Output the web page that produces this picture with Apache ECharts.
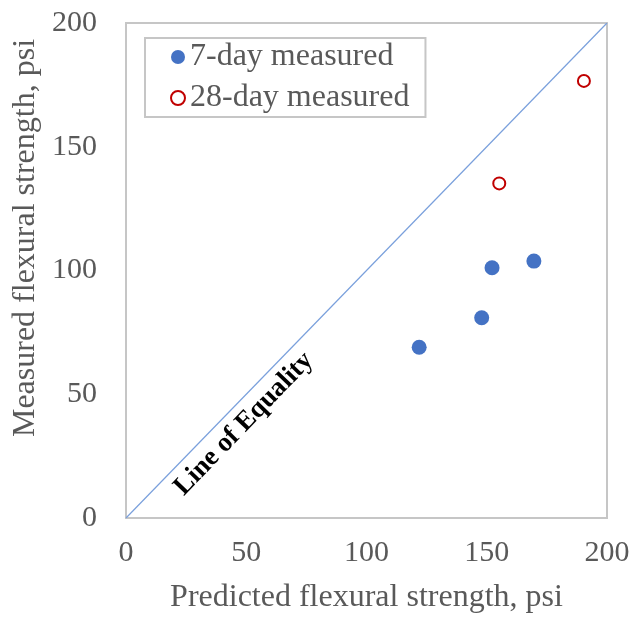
<!DOCTYPE html>
<html>
<head>
<meta charset="utf-8">
<script src="https://cdn.jsdelivr.net/npm/echarts@6/dist/echarts.min.js"></script>
<style>
  html, body { margin: 0; padding: 0; background: #fff; }
  #chart { width: 633px; height: 621px; }
</style>
</head>
<body>
<div id="chart"></div>
<script>
// Predicted vs measured flexural strength (psi)
const predicted7 = [121.9, 147.9, 152.2, 169.6];
const measured7 = [69.0, 80.9, 101.1, 103.8];
const predicted28 = [155.2, 190.4];
const measured28 = [135.2, 176.6];
const equalityLine = [[0, 0], [200, 200]];
const equalityLabelAt = [49, 38];
const axisTicks = [0, 50, 100, 150, 200];
const seriesNames = ['7-day measured', '28-day measured'];
const xTitle = 'Predicted flexural strength, psi';
const yTitle = 'Measured flexural strength, psi';

const serif = '"Liberation Serif", "Times New Roman", serif';
const grey = '#595959';

const pairs = (xs, ys) => xs.map((x, i) => [x, ys[i]]);

const axisBase = {
  type: 'value',
  min: axisTicks[0],
  max: axisTicks[axisTicks.length - 1],
  interval: axisTicks[1] - axisTicks[0],
  axisLine: { show: false },
  axisTick: { show: false },
  splitLine: { show: false },
  axisLabel: { fontFamily: serif, fontSize: 30, color: grey }
};

const chart = echarts.init(document.getElementById('chart'));
chart.setOption({
  animation: false,
  grid: {
    left: 126, right: 26, top: 23, bottom: 103,
    show: true, borderColor: '#c6c6c6', borderWidth: 2
  },
  xAxis: Object.assign({}, axisBase, {
    name: xTitle, nameLocation: 'middle', nameGap: 64,
    nameTextStyle: { fontFamily: serif, fontSize: 32, color: grey },
    axisLabel: Object.assign({}, axisBase.axisLabel, { margin: 20 })
  }),
  yAxis: Object.assign({}, axisBase, {
    axisLabel: Object.assign({}, axisBase.axisLabel, { margin: 29 })
  }),
  graphic: [{
    type: 'text',
    x: 26, y: 238,
    rotation: Math.PI / 2,
    style: {
      text: yTitle,
      font: '32px ' + serif,
      fill: grey,
      textAlign: 'center',
      textVerticalAlign: 'middle'
    }
  }],
  legend: {
    orient: 'vertical',
    left: 145, top: 38,
    data: seriesNames,
    backgroundColor: '#fff',
    borderColor: '#c6c6c6', borderWidth: 2,
    padding: [3, 16, 3, 25],
    itemGap: 9,
    itemWidth: 14, itemHeight: 14,
    textStyle: { fontFamily: serif, fontSize: 32, color: grey }
  },
  series: [
    {
      type: 'line',
      data: equalityLine,
      symbol: 'none',
      silent: true,
      lineStyle: { color: '#7aa0dc', width: 1.2 },
      z: 1
    },
    {
      type: 'scatter',
      data: [equalityLabelAt],
      symbolSize: 0,
      silent: true,
      itemStyle: { opacity: 1 },
      label: {
        show: true,
        position: 'inside',
        rotate: 46,
        formatter: 'Line of Equality',
        fontFamily: serif, fontSize: 27, fontWeight: 'bold', color: '#000'
      }
    },
    {
      name: seriesNames[0],
      type: 'scatter',
      data: pairs(predicted7, measured7),
      symbol: 'circle',
      symbolSize: 15,
      itemStyle: { color: '#4472c4', opacity: 1 },
      z: 3
    },
    {
      name: seriesNames[1],
      type: 'scatter',
      data: pairs(predicted28, measured28),
      symbol: 'circle',
      symbolSize: 12,
      itemStyle: { color: '#fff', borderColor: '#c00000', borderWidth: 2, opacity: 1 },
      z: 3
    }
  ]
});
</script>
</body>
</html>
